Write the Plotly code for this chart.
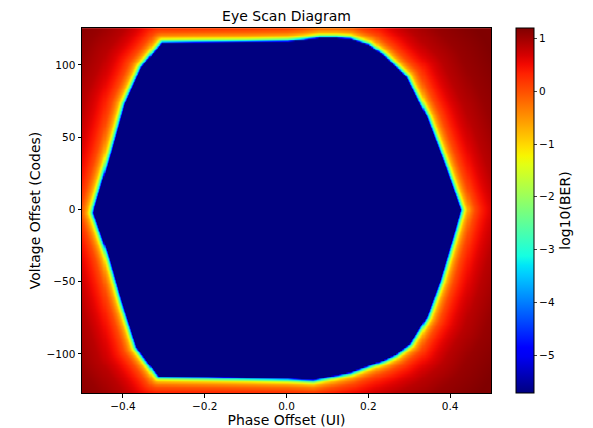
import numpy as np
import plotly.graph_objects as go

# Eye opening boundary (vertices), clockwise from top-left
eye_x = [-0.305, -0.2, -0.1, 0.0, 0.04, 0.08, 0.12, 0.154, 0.2, 0.235, 0.265, 0.292,
         0.341, 0.382, 0.419, 0.425, 0.41, 0.374, 0.341, 0.3, 0.265, 0.235, 0.154,
         0.1, 0.064, 0.0, -0.1, -0.2, -0.314, -0.367, -0.404, -0.437, -0.472,
         -0.469, -0.428, -0.396, -0.355]
eye_y = [115.5, 115.8, 116.0, 116.5, 117.5, 119.0, 119.0, 118.3, 114.0, 106.8, 99.0, 91.8,
         64.2, 34.1, 5.0, 0.0, -15.0, -49.0, -74.0, -92.7, -100.0, -104.0, -112.3,
         -115.5, -117.4, -116.5, -116.0, -115.5, -115.0, -95.0, -62.8, -30.4, -2.0,
         2.0, 41.0, 73.4, 98.7]

# log10(BER) versus distance outside the eye edge (screen pixels)
edge_dist = [0, 0.8, 2, 3.5, 5, 7, 10, 14, 20, 28, 40, 60, 90]
edge_ber = [-5.72, -4.2, -3.0, -2.0, -1.2, -0.7, -0.3, 0.05, 0.35, 0.6, 0.85, 1.05, 1.2]

phase = np.round(np.arange(-0.5, 0.50001, 0.0025), 4)
volt = np.arange(-127, 126, 1)

x_tick_vals = [-0.4, -0.2, 0.0, 0.2, 0.4]
x_tick_text = ["\u22120.4", "\u22120.2", "0.0", "0.2", "0.4"]
y_tick_vals = [-100, -50, 0, 50, 100]
y_tick_text = ["\u2212100", "\u221250", "0", "50", "100"]
c_tick_vals = [-5, -4, -3, -2, -1, 0, 1]
c_tick_text = ["\u22125", "\u22124", "\u22123", "\u22122", "\u22121", "0", "1"]

# ---- build grid ----
SX, SY = 409.0, 1.7
X, Y = np.meshgrid(phase, volt)
px, py = X * SX, Y * SY
vx = np.array(eye_x) * SX
vy = np.array(eye_y) * SY
n = len(vx)
inside = np.zeros(X.shape, bool)
dist = np.full(X.shape, np.inf)
for i in range(n):
    x1, y1 = vx[i], vy[i]
    x2, y2 = vx[(i + 1) % n], vy[(i + 1) % n]
    cond = (y1 > py) != (y2 > py)
    xint = (x2 - x1) * (py - y1) / ((y2 - y1) if y2 != y1 else 1e-9) + x1
    inside ^= cond & (px < xint)
    dx, dy = x2 - x1, y2 - y1
    L2 = dx * dx + dy * dy
    t = np.clip(((px - x1) * dx + (py - y1) * dy) / L2, 0, 1)
    d = np.hypot(px - (x1 + t * dx), py - (y1 + t * dy))
    dist = np.minimum(dist, d)
dist[inside] = 0
Z = np.interp(dist, edge_dist, edge_ber)

# matplotlib jet colorscale
def jet(v):
    r = np.interp(v, [0, 0.35, 0.66, 0.89, 1], [0, 0, 1, 1, 0.5])
    g = np.interp(v, [0, 0.125, 0.375, 0.64, 0.91, 1], [0, 0, 1, 1, 0, 0])
    b = np.interp(v, [0, 0.11, 0.34, 0.65, 1], [0.5, 1, 1, 0, 0])
    return "rgb(%d,%d,%d)" % (round(r * 255), round(g * 255), round(b * 255))

jet_scale = [[v, jet(v)] for v in np.linspace(0, 1, 41)]

# page body has an 8px margin, so the figure is 8px smaller and shifted
W, H = 585, 420
fig = go.Figure(go.Heatmap(
    x=phase, y=volt, z=Z, colorscale=jet_scale, zmin=-5.72, zmax=1.2, zsmooth="best",
    colorbar=dict(
        title=dict(text="log10(BER)", side="right", font=dict(size=14, color="black")),
        thickness=18, len=1, lenmode="fraction", y=0.5, yanchor="middle",
        x=1.061, xanchor="left", xpad=0, ypad=0, outlinewidth=1, outlinecolor="black",
        tickvals=c_tick_vals, ticktext=c_tick_text, ticks="outside", ticklen=3,
        tickfont=dict(size=10.5, color="black"),
    ),
))

fig.update_layout(
    width=W, height=H,
    margin=dict(l=74, r=102, t=20, b=35, autoexpand=False),
    paper_bgcolor="white", plot_bgcolor="white",
    font=dict(family="DejaVu Sans", color="black"),
    title=dict(text="Eye Scan Diagram", x=(74 + 483) / 2 / W, xanchor="center",
               y=1 - 8 / H, yanchor="middle", font=dict(size=14)),
)
fig.update_xaxes(
    range=[-0.5, 0.5], tickvals=x_tick_vals, ticktext=x_tick_text, automargin=False,
    ticks="outside", ticklen=3.5, tickcolor="black", tickfont=dict(size=10.5),
    showline=True, linecolor="black", linewidth=1, mirror=True, showgrid=False, zeroline=False,
    title=dict(text="Phase Offset (UI)", font=dict(size=14), standoff=5),
)
fig.update_yaxes(
    range=[-127, 125.6], tickvals=y_tick_vals, ticktext=y_tick_text, automargin=False,
    ticks="outside", ticklen=3.5, tickcolor="black", tickfont=dict(size=10.5),
    showline=True, linecolor="black", linewidth=1, mirror=True, showgrid=False, zeroline=False,
    title=dict(text="Voltage Offset (Codes)", font=dict(size=14), standoff=2),
)
fig.write_html("out.html")
